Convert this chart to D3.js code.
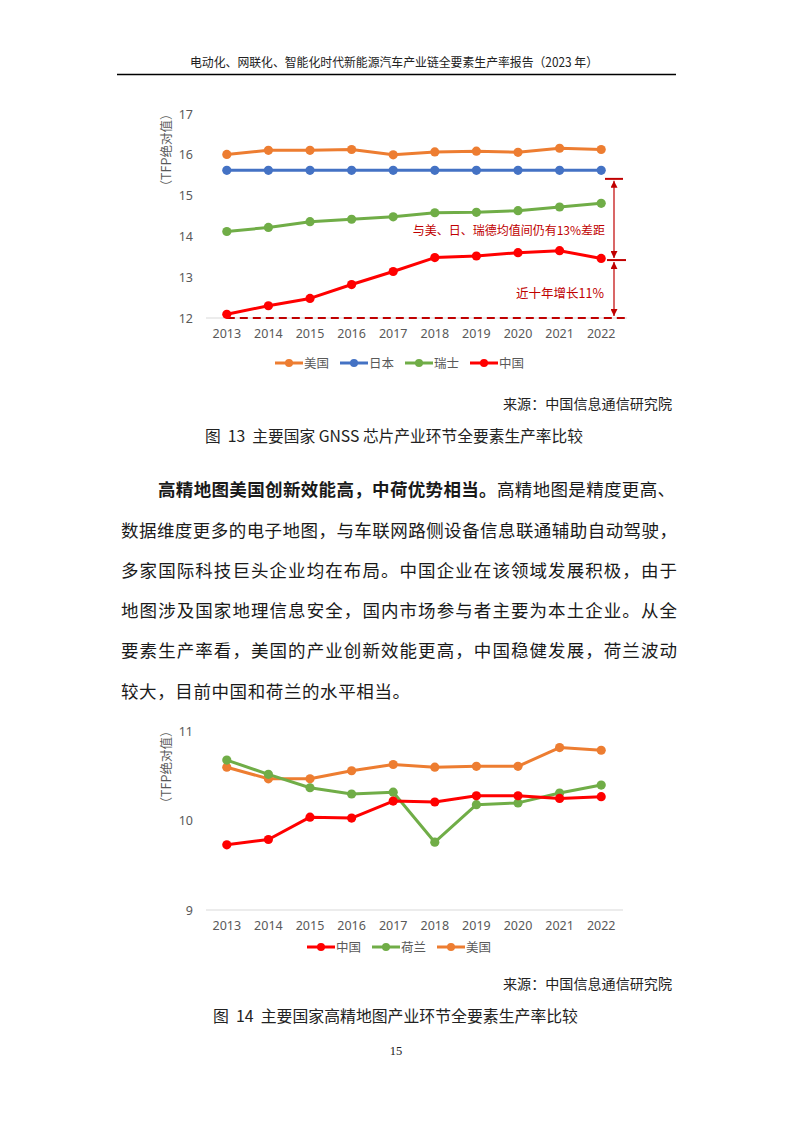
<!DOCTYPE html>
<html><head><meta charset="utf-8">
<script src="https://cdn.jsdelivr.net/npm/d3@7/dist/d3.min.js"></script>
<style>
html,body{margin:0;padding:0;background:#fff;}
svg{display:block;}
text{white-space:pre;}
</style></head>
<body>
<svg id="page" width="793" height="1122"></svg>
<script>
// ---------- data ----------
const years = ["2013","2014","2015","2016","2017","2018","2019","2020","2021","2022"];

// Figure 13: GNSS chips
const gnssUSA    = [16.01,16.11,16.11,16.13,16.00,16.07,16.09,16.06,16.16,16.13];
const gnssJapan  = [15.62,15.62,15.62,15.62,15.62,15.62,15.62,15.62,15.62,15.62];
const gnssSwiss  = [14.12,14.22,14.36,14.42,14.48,14.58,14.59,14.63,14.72,14.81];
const gnssChina  = [12.09,12.30,12.48,12.82,13.14,13.48,13.52,13.60,13.65,13.46];
const gnssTicks  = [12,13,14,15,16,17];
const gnssAnnLevels = [15.41, 13.42, 12];
const gnssAnnTexts  = ["与美、日、瑞德均值间仍有13%差距", "近十年增长11%"];

// Figure 14: HD maps
const mapChina = [9.73,9.79,10.04,10.03,10.22,10.21,10.28,10.28,10.25,10.27];
const mapNL    = [10.68,10.52,10.37,10.30,10.32,9.76,10.18,10.20,10.31,10.40];
const mapUSA   = [10.60,10.47,10.47,10.56,10.63,10.60,10.61,10.61,10.82,10.79];
const mapTicks = [9,10,11];

const headerText = "电动化、网联化、智能化时代新能源汽车产业链全要素生产率报告（2023 年）";
const sourceText = "来源：中国信息通信研究院";
const caption13 = "图  13  主要国家 GNSS 芯片产业环节全要素生产率比较";
const caption14 = "图  14  主要国家高精地图产业环节全要素生产率比较";
const paraBold = "高精地图美国创新效能高，中荷优势相当。";
const paraLines = [
  "高精地图是精度更高、",
  "数据维度更多的电子地图，与车联网路侧设备信息联通辅助自动驾驶，",
  "多家国际科技巨头企业均在布局。中国企业在该领域发展积极，由于",
  "地图涉及国家地理信息安全，国内市场参与者主要为本土企业。从全",
  "要素生产率看，美国的产业创新效能更高，中国稳健发展，荷兰波动",
  "较大，目前中国和荷兰的水平相当。"
];
const pageNumber = "15";

// ---------- page ----------
const svg = d3.select("#page");
const CJK = "'Noto Sans CJK SC','Noto Sans',sans-serif";
const SERIF = "'Liberation Serif','Noto Sans CJK SC',serif";
const UI = "'Noto Sans','Noto Sans CJK SC',sans-serif";
const C = {usa:"#ED7D31", jp:"#4472C4", sw:"#70AD47", cn:"#FF0000", ann:"#C00000", tick:"#595959", axis:"#D9D9D9"};

// header
svg.append("text").attr("x",190).attr("y",67).attr("font-family",CJK).attr("font-size",12.5)
  .attr("fill","#222").attr("textLength",408).attr("lengthAdjust","spacingAndGlyphs").text(headerText);
svg.append("line").attr("x1",117).attr("x2",676).attr("y1",74.5).attr("y2",74.5)
  .attr("stroke","#000").attr("stroke-width",1.4);

// ---------- chart builder ----------
function lineChart(g, cfg) {
  const x = d3.scaleBand().domain(years).range([206, 622]);
  const cx = d => x(d) + x.bandwidth()/2;
  const y = d3.scaleLinear().domain(cfg.domain).range(cfg.range);

  // baseline
  g.append("line").attr("x1",206).attr("x2",cfg.axisEnd)
    .attr("y1",y(cfg.domain[0])).attr("y2",y(cfg.domain[0]))
    .attr("stroke",C.axis).attr("stroke-width",1);

  // y axis
  const ya = g.append("g").attr("transform","translate(196,0)")
    .call(d3.axisLeft(y).tickValues(cfg.ticks).tickSize(0).tickPadding(3).tickFormat(d3.format("d")));
  ya.select(".domain").remove();
  ya.selectAll("text").attr("font-family",UI).attr("font-size",12.5).attr("fill",C.tick);

  // x axis
  const xa = g.append("g").attr("transform",`translate(0,${y(cfg.domain[0])})`)
    .call(d3.axisBottom(x).tickSize(0).tickPadding(11));
  xa.select(".domain").remove();
  xa.selectAll("text").attr("font-family",UI).attr("font-size",12.5).attr("fill",C.tick);

  // y label
  g.append("text").attr("transform",`translate(171,${cfg.labelY}) rotate(-90)`)
    .attr("text-anchor","middle").attr("font-family",CJK).attr("font-size",12.5)
    .attr("fill",C.tick).text("（TFP绝对值）");

  if (cfg.extra) cfg.extra(g, x, cx, y);

  const line = d3.line().x((d,i)=>cx(years[i])).y(d=>y(d));
  cfg.series.forEach(s => {
    g.append("path").datum(s.values).attr("d",line).attr("fill","none")
      .attr("stroke",s.color).attr("stroke-width",3).attr("stroke-linejoin","round");
    g.selectAll(null).data(s.values).enter().append("circle")
      .attr("cx",(d,i)=>cx(years[i])).attr("cy",d=>y(d)).attr("r",4.6).attr("fill",s.color);
  });

  // legend
  const lg = g.append("g").attr("transform",`translate(0,${cfg.legendY})`);
  let lx = cfg.legendX;
  cfg.legendOrder.forEach(s => {
    lg.append("line").attr("x1",lx).attr("x2",lx+28).attr("y1",0).attr("y2",0)
      .attr("stroke",s.color).attr("stroke-width",3);
    lg.append("circle").attr("cx",lx+14).attr("cy",0).attr("r",4).attr("fill",s.color);
    lg.append("text").attr("x",lx+29).attr("y",4.5).attr("font-family",CJK).attr("font-size",12.5)
      .attr("fill",C.tick).text(s.name);
    lx += cfg.legendStep;
  });
}

// ---------- Figure 13 ----------
const s13 = [
  {name:"美国", color:C.usa, values:gnssUSA},
  {name:"日本", color:C.jp, values:gnssJapan},
  {name:"瑞士", color:C.sw, values:gnssSwiss},
  {name:"中国", color:C.cn, values:gnssChina}
];
svg.append("defs").html(`
  <marker id="ah" viewBox="0 0 10 10" refX="10" refY="5" markerWidth="7" markerHeight="7" markerUnits="userSpaceOnUse" orient="auto-start-reverse">
    <path d="M0,0 L10,5 L0,10 z" fill="${C.ann}"/>
  </marker>`);

lineChart(svg.append("g"), {
  domain:[12,17], range:[318,114], ticks:gnssTicks, axisEnd:627, labelY:150,
  series:s13, legendOrder:s13, legendX:275, legendStep:65, legendY:363,
  extra:(g,x,cx,y)=>{
    // dashed baseline at 2013 level
    g.append("line").attr("x1",cx(years[0])).attr("x2",627)
      .attr("y1",y(gnssAnnLevels[2])).attr("y2",y(gnssAnnLevels[2]))
      .attr("stroke",C.ann).attr("stroke-width",2).attr("stroke-dasharray","8,5");
    const ax = 614;
    // caps
    [[gnssAnnLevels[0],605,623],[gnssAnnLevels[1],607,626]].forEach(([v,a,b])=>{
      g.append("line").attr("x1",a).attr("x2",b).attr("y1",y(v)).attr("y2",y(v))
        .attr("stroke",C.ann).attr("stroke-width",2);
    });
    // double arrows
    [[gnssAnnLevels[0],gnssAnnLevels[1]],[gnssAnnLevels[1],gnssAnnLevels[2]]].forEach(([a,b])=>{
      g.append("line").attr("x1",ax).attr("x2",ax).attr("y1",y(a)+2).attr("y2",y(b)-2)
        .attr("stroke",C.ann).attr("stroke-width",1.2)
        .attr("marker-start","url(#ah)").attr("marker-end","url(#ah)");
    });
    g.append("text").attr("x",605).attr("y",234.5).attr("text-anchor","end")
      .attr("font-family",CJK).attr("font-size",12).attr("fill",C.ann).text(gnssAnnTexts[0]);
    g.append("text").attr("x",604).attr("y",297.5).attr("text-anchor","end")
      .attr("font-family",CJK).attr("font-size",12.5).attr("fill",C.ann).text(gnssAnnTexts[1]);
  }
});

svg.append("text").attr("x",672).attr("y",409).attr("text-anchor","end").attr("font-family",CJK)
  .attr("font-size",13.5).attr("fill","#222").attr("textLength",169).attr("lengthAdjust","spacingAndGlyphs").text(sourceText);
svg.append("text").attr("x",205).attr("y",442).attr("font-family",CJK).attr("font-size",15.5)
  .attr("fill","#222").attr("textLength",378).attr("lengthAdjust","spacingAndGlyphs").text(caption13);

// ---------- paragraph ----------
const lineYs = [496, 537, 577, 617, 657, 698];
const p1 = svg.append("text").attr("x",158).attr("y",lineYs[0]).attr("font-size",17.5).attr("fill","#1a1a1a")
  .attr("textLength",517).attr("lengthAdjust","spacing");
p1.append("tspan").attr("font-family",CJK).attr("font-weight","bold").text(paraBold);
p1.append("tspan").attr("font-family",CJK).text(paraLines[0]);
paraLines.slice(1).forEach((t,i)=>{
  const el = svg.append("text").attr("x",121).attr("y",lineYs[i+1]).attr("font-family",CJK)
    .attr("font-size",17.5).attr("fill","#1a1a1a").text(t);
  if (i < 4) el.attr("textLength",556).attr("lengthAdjust","spacing");
  else el.attr("letter-spacing",0.6);
});

// ---------- Figure 14 ----------
const s14 = [
  {name:"中国", color:C.cn, values:mapChina},
  {name:"荷兰", color:C.sw, values:mapNL},
  {name:"美国", color:C.usa, values:mapUSA}
];
lineChart(svg.append("g"), {
  domain:[9,11], range:[910,731.5], ticks:mapTicks, axisEnd:623, labelY:767,
  series:[s14[2], s14[1], s14[0]], legendOrder:s14, legendX:307, legendStep:65, legendY:947
});

svg.append("text").attr("x",672).attr("y",989).attr("text-anchor","end").attr("font-family",CJK)
  .attr("font-size",13.5).attr("fill","#222").attr("textLength",169).attr("lengthAdjust","spacingAndGlyphs").text(sourceText);
svg.append("text").attr("x",213).attr("y",1022).attr("font-family",CJK).attr("font-size",15.5)
  .attr("fill","#222").attr("textLength",365).attr("lengthAdjust","spacingAndGlyphs").text(caption14);

svg.append("text").attr("x",396).attr("y",1055).attr("text-anchor","middle").attr("font-family",SERIF)
  .attr("font-size",12.5).attr("fill","#222").text(pageNumber);
</script>
</body></html>
